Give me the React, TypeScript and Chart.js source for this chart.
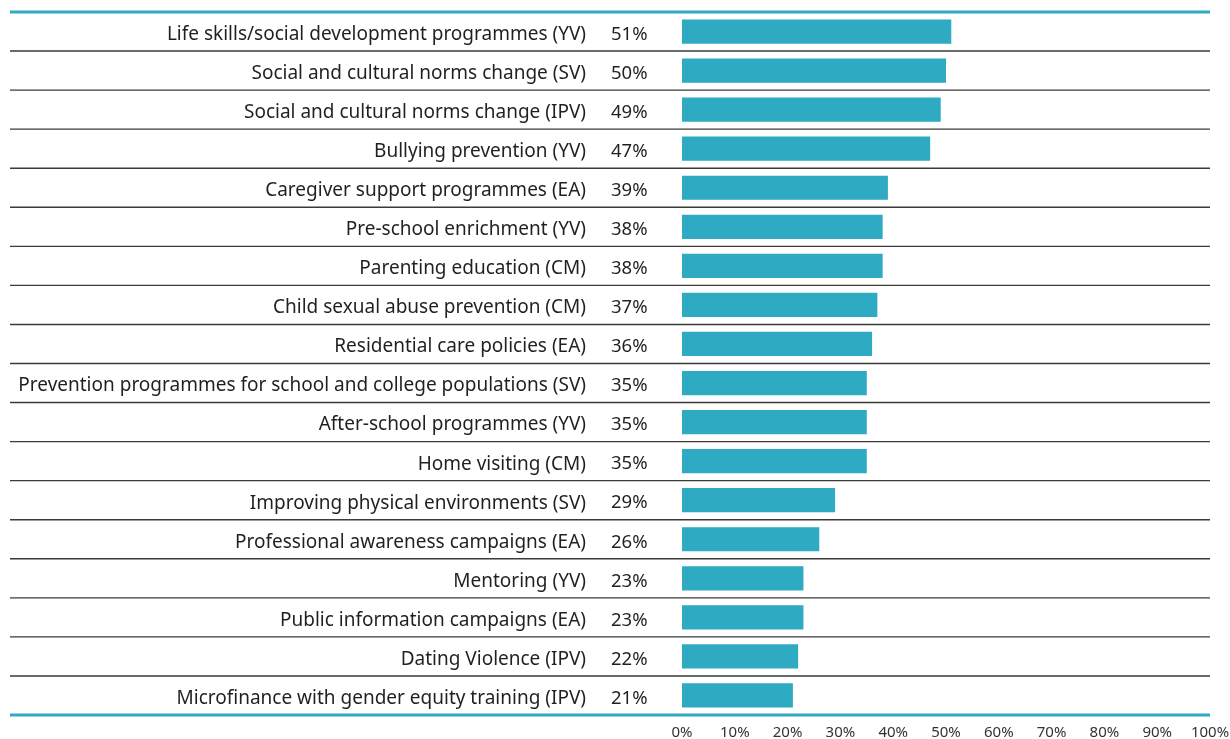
import React, { useEffect, useRef } from "react";
import { Chart, registerables } from "chart.js";

Chart.register(...registerables);

const categories = [
  "Life skills/social development programmes (YV)",
  "Social and cultural norms change (SV)",
  "Social and cultural norms change (IPV)",
  "Bullying prevention (YV)",
  "Caregiver support programmes (EA)",
  "Pre-school enrichment (YV)",
  "Parenting education (CM)",
  "Child sexual abuse prevention (CM)",
  "Residential care policies (EA)",
  "Prevention programmes for school and college populations (SV)",
  "After-school programmes (YV)",
  "Home visiting (CM)",
  "Improving physical environments (SV)",
  "Professional awareness campaigns (EA)",
  "Mentoring (YV)",
  "Public information campaigns (EA)",
  "Dating Violence (IPV)",
  "Microfinance with gender equity training (IPV)",
];

const values = [51, 50, 49, 47, 39, 38, 38, 37, 36, 35, 35, 35, 29, 26, 23, 23, 22, 21];

const xTickValues = [0, 10, 20, 30, 40, 50, 60, 70, 80, 90, 100];

const TEAL = "#2eaac3";
const TEXT = "#231f20";
const FONT = "'Noto Sans', 'Liberation Sans', sans-serif";
const TEXT_SHIFT = 3;

const rowLines = {
  id: "rowLines",
  beforeDatasetsDraw(chart: any) {
    const { ctx, chartArea } = chart;
    const y = chart.scales.y;
    const n = categories.length;
    const step = y.getPixelForTick(1) - y.getPixelForTick(0);
    const x0 = 10;
    const x1 = chartArea.right;
    ctx.save();
    for (let i = 0; i <= n; i++) {
      const py = i < n ? y.getPixelForTick(i) - step / 2 : y.getPixelForTick(n - 1) + step / 2;
      ctx.beginPath();
      if (i === 0 || i === n) {
        ctx.strokeStyle = TEAL;
        ctx.lineWidth = 3;
      } else {
        ctx.strokeStyle = "#3a3a3a";
        ctx.lineWidth = 1.4;
      }
      ctx.moveTo(x0, py);
      ctx.lineTo(x1, py);
      ctx.stroke();
    }
    ctx.restore();
  },
  afterDatasetsDraw(chart: any) {
    const { ctx, chartArea } = chart;
    const y = chart.scales.y;
    ctx.save();
    ctx.fillStyle = TEXT;
    ctx.font = `18.5px ${FONT}`;
    ctx.textAlign = "left";
    ctx.textBaseline = "middle";
    values.forEach((v, i) => {
      ctx.fillText(v + "%", chartArea.left - 71, y.getPixelForTick(i) + TEXT_SHIFT);
    });
    ctx.restore();
  },
};

export default function App() {
  const ref = useRef<HTMLCanvasElement>(null);
  useEffect(() => {
    if (!ref.current) return;
    const chart = new Chart(ref.current, {
      type: "bar",
      data: {
        labels: categories,
        datasets: [
          {
            data: values,
            backgroundColor: TEAL,
            borderWidth: 0,
            barPercentage: 0.62,
            categoryPercentage: 1,
          },
        ],
      },
      options: {
        indexAxis: "y",
        animation: false,
        responsive: false,
        devicePixelRatio: 1,
        layout: { padding: { left: 10, top: 12, right: 20, bottom: 0 } },
        plugins: { legend: { display: false }, tooltip: { enabled: false } },
        scales: {
          x: {
            min: 0,
            max: 100,
            afterBuildTicks: (s: any) => {
              s.ticks = xTickValues.map((v) => ({ value: v }));
            },
            afterFit: (s: any) => {
              s.height = 24;
              s.paddingLeft = 0;
              s.paddingRight = 0;
            },
            grid: { display: false, drawTicks: false },
            border: { display: false },
            ticks: {
              padding: 9,
              color: "#333",
              font: { size: 15, family: FONT },
              callback: (v: any) => v + "%",
            },
          },
          y: {
            afterFit: (s: any) => {
              s.width = 672;
              s.paddingTop = 0;
              s.paddingBottom = 0;
            },
            grid: { display: false, drawTicks: false },
            border: { display: false },
            ticks: {
              padding: 96,
              labelOffset: TEXT_SHIFT,
              color: TEXT,
              autoSkip: false,
              font: { size: 19, family: FONT },
            },
          },
        },
      },
      plugins: [rowLines],
    });
    return () => chart.destroy();
  }, []);
  return (
    <div style={{ position: "fixed", left: 0, top: 0, width: 1230, height: 739, background: "#fff" }}>
      <canvas ref={ref} width={1230} height={739} style={{ display: "block", width: 1230, height: 739 }} />
    </div>
  );
}
